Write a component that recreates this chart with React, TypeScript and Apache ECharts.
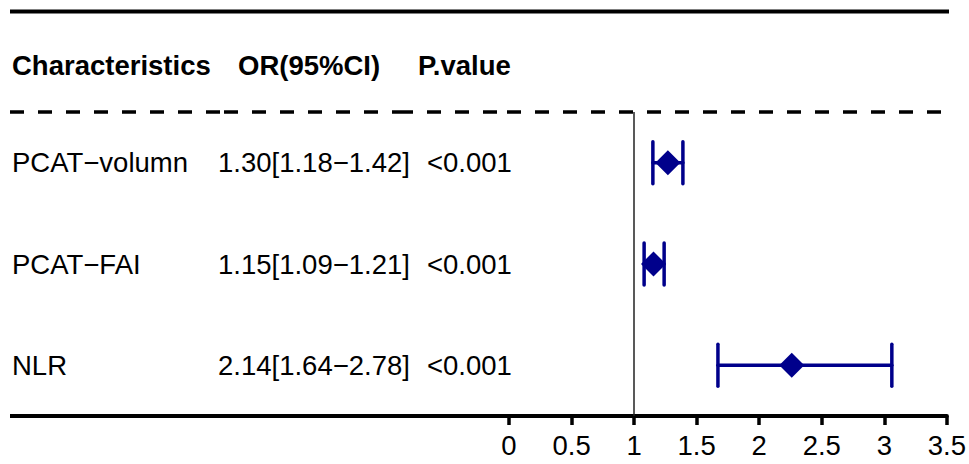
import React, { useEffect, useRef } from 'react';
import * as echarts from 'echarts';

const FONT = '"Liberation Sans", Arial, Helvetica, sans-serif';
const NAVY = '#00008B';

// table content
const headers = ['Characteristics', 'OR(95%CI)', 'P.value'];
const characteristics = ['PCAT\u2212volumn', 'PCAT\u2212FAI', 'NLR'];
const orLabels = ['1.30[1.18\u22121.42]', '1.15[1.09\u22121.21]', '2.14[1.64\u22122.78]'];
const pLabels = ['<0.001', '<0.001', '<0.001'];

// plotted values
const estimate = [1.27, 1.155, 2.26];
const lower = [1.15, 1.08, 1.67];
const upper = [1.39, 1.24, 3.06];

// axis
const xMin = 0;
const xMax = 3.5;
const xInterval = 0.5;
const refValue = 1;

export default function App() {
  const ref = useRef<HTMLDivElement>(null);

  useEffect(() => {
    const chart = echarts.init(ref.current!, null, { renderer: 'svg' });
    const option: any = {
      animation: false,
      backgroundColor: '#fff',
      grid: { left: 509, right: 21, top: 112, bottom: 48, containLabel: false },
      xAxis: {
        type: 'value',
        min: xMin,
        max: xMax,
        interval: xInterval,
        splitLine: { show: false },
        axisLine: { show: true, lineStyle: { color: '#000', width: 4 } },
        axisTick: { show: true, length: 9, lineStyle: { color: '#000', width: 3.5 } },
        axisLabel: { color: '#000', fontSize: 27.5, fontFamily: FONT, margin: 15 },
      },
      yAxis: {
        type: 'category',
        inverse: true,
        data: characteristics,
        show: false,
      },
      series: [
        {
          type: 'custom',
          z: 2,
          encode: { x: [0, 1], y: 2 },
          data: characteristics.map((_, i) => [lower[i], upper[i], i]),
          renderItem: (params: any, api: any) => {
            const idx = api.value(2);
            const p1 = api.coord([api.value(0), idx]);
            const p2 = api.coord([api.value(1), idx]);
            const h = 21;
            const st = { stroke: NAVY, lineWidth: 3.5, lineCap: 'round' };
            return {
              type: 'group',
              children: [
                { type: 'line', shape: { x1: p1[0], y1: p1[1], x2: p2[0], y2: p2[1] }, style: st },
                { type: 'line', shape: { x1: p1[0], y1: p1[1] - h, x2: p1[0], y2: p1[1] + h }, style: st },
                { type: 'line', shape: { x1: p2[0], y1: p2[1] - h, x2: p2[0], y2: p2[1] + h }, style: st },
              ],
            };
          },
        },
        {
          type: 'scatter',
          z: 3,
          symbol: 'diamond',
          symbolSize: [25, 25],
          itemStyle: { color: NAVY, opacity: 1 },
          data: characteristics.map((_, i) => [estimate[i], i]),
          markLine: {
            silent: true,
            symbol: 'none',
            label: { show: false },
            lineStyle: { color: '#222', width: 1.5, type: 'solid' },
            data: [{ xAxis: refValue }],
          },
        },
      ],
    };
    chart.setOption(option);

    const rowY = characteristics.map((_, i) => chart.convertToPixel({ gridIndex: 0 }, [0, i])[1]);

    const txt = (text: string, x: number, y: number, align: string, bold = false) => ({
      type: 'text',
      x,
      y,
      style: {
        text,
        fill: '#000',
        fontSize: 27.5,
        fontFamily: FONT,
        fontWeight: bold ? 'bold' : 'normal',
        align,
        verticalAlign: 'middle',
        textAlign: align,
        textVerticalAlign: 'middle',
      },
    });

    const dashSegs = [
      [10, 222],
      [224, 399],
      [399, 505],
      [507, 949],
    ];

    const graphic: any[] = [
      { type: 'line', shape: { x1: 10, y1: 11.5, x2: 949, y2: 11.5 }, style: { stroke: '#000', lineWidth: 4 } },
      ...dashSegs.map(([a, b]) => ({
        type: 'line',
        shape: { x1: a, y1: 112, x2: b, y2: 112 },
        style: { stroke: '#000', lineWidth: 3.5, lineDash: [14, 14] },
      })),
      { type: 'line', shape: { x1: 10, y1: 416, x2: 509, y2: 416 }, style: { stroke: '#000', lineWidth: 4 } },
      txt(headers[0], 12, 65, 'left', true),
      txt(headers[1], 238, 65, 'left', true),
      txt(headers[2], 418, 65, 'left', true),
    ];
    characteristics.forEach((c, i) => {
      graphic.push(txt(c, 12, rowY[i], 'left'));
      graphic.push(txt(orLabels[i], 218, rowY[i], 'left'));
      graphic.push(txt(pLabels[i], 427, rowY[i], 'left'));
    });
    chart.setOption({ graphic });

    return () => chart.dispose();
  }, []);

  return (
    <div
      ref={ref}
      style={{ position: 'fixed', left: 0, top: 0, width: 969, height: 464, background: '#fff' }}
    />
  );
}
